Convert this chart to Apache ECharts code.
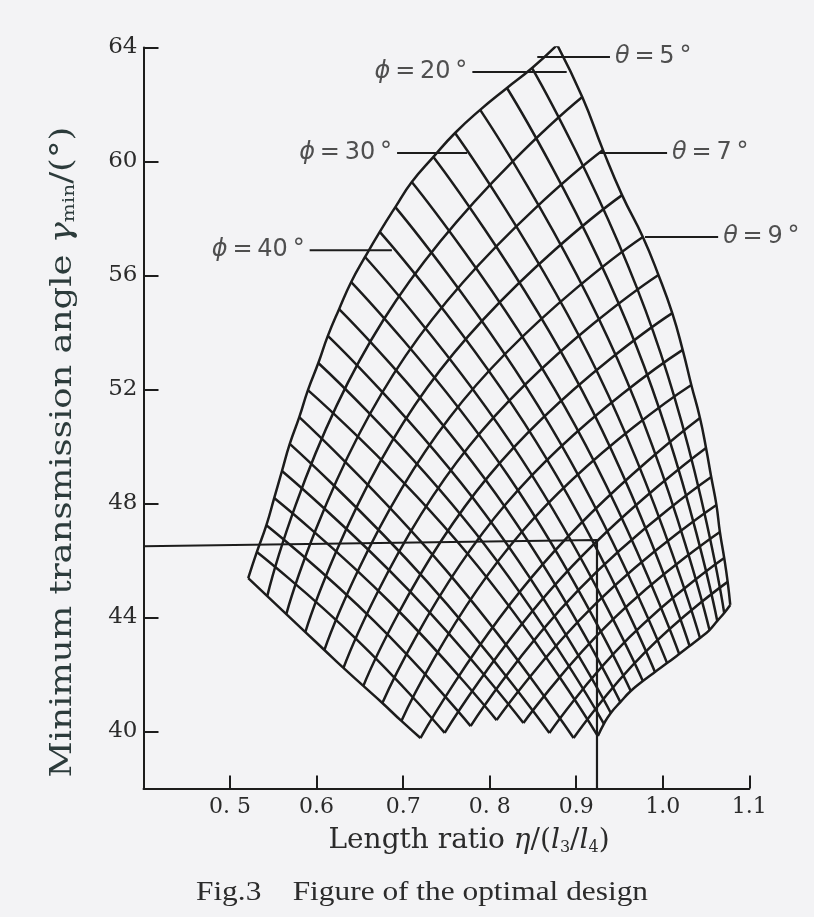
<!DOCTYPE html>
<html>
<head>
<meta charset="utf-8">
<script src="https://cdn.jsdelivr.net/npm/echarts@6/dist/echarts.min.js"></script>
<style>
  html, body { margin: 0; padding: 0; background: #f3f3f5; }
  #chart { width: 814px; height: 917px; }
</style>
</head>
<body>
<div id="chart"></div>
<script>
// ---- axis ticks ----
const xTicks = [0.5, 0.6, 0.7, 0.8, 0.9, 1.0, 1.1];
const xTickLabels = ['0. 5', '0.6', '0.7', '0. 8', '0.9', '1.0', '1.1'];
const yTicks = [40, 44, 48, 52, 56, 60, 64];

// ---- design chart nodes, [η, γmin] ----
// θ = 5° edge (upper-left), one node per ϕ line, from the apex downwards
const thetaMinEdge = [
  [0.878, 64.09], [0.849, 63.28], [0.820, 62.58], [0.789, 61.81], [0.760, 61.00],
  [0.735, 60.16], [0.710, 59.28], [0.691, 58.40], [0.673, 57.53], [0.656, 56.65],
  [0.640, 55.77], [0.626, 54.82], [0.613, 53.88], [0.602, 52.93], [0.590, 51.98],
  [0.580, 51.03], [0.569, 50.09], [0.560, 49.14], [0.551, 48.19], [0.542, 47.24],
  [0.531, 46.30], [0.521, 45.38]
];
// smallest-ϕ edge (upper-right), one node per θ line, θ = 5° … 21°
const phiMinEdge = [
  [0.878, 64.09], [0.907, 62.26], [0.931, 60.40], [0.953, 58.82], [0.977, 57.35],
  [0.995, 56.02], [1.011, 54.68], [1.023, 53.39], [1.033, 52.16], [1.043, 51.00],
  [1.050, 49.95], [1.056, 48.93], [1.062, 47.95], [1.066, 47.00], [1.071, 46.09],
  [1.075, 45.25], [1.078, 44.44]
];
// θ = 21° edge (lower-right), nodes where the ϕ lines end
const thetaMaxEdge = [
  [1.078, 44.44], [1.071, 44.16], [1.063, 43.88], [1.054, 43.56], [1.043, 43.28],
  [1.031, 43.00], [1.019, 42.72], [1.005, 42.40], [0.991, 42.09], [0.977, 41.77],
  [0.963, 41.42], [0.951, 41.03], [0.940, 40.65], [0.932, 40.27], [0.925, 39.84]
];
// largest-ϕ edge (lower-left), nodes where θ = 5° … 14° end
const phiMaxEdge = [
  [0.521, 45.38], [0.543, 44.75], [0.565, 44.12], [0.587, 43.49], [0.609, 42.86],
  [0.631, 42.23], [0.654, 41.60], [0.676, 41.00], [0.698, 40.37], [0.720, 39.77]
];
// lowest vertices, where a θ line (14° … 21°) meets a ϕ line
const bottomVertices = [
  [0.720, 39.77], [0.748, 39.95], [0.778, 40.19], [0.808, 40.40],
  [0.839, 40.30], [0.869, 39.95], [0.897, 39.77], [0.925, 39.84]
];
// mid-span points of the inner θ lines, θ = 6° … 20°
const thetaMid = [
  [0.677, 54.43], [0.703, 53.19], [0.728, 52.08], [0.754, 51.03], [0.776, 50.00],
  [0.799, 48.97], [0.819, 47.99], [0.837, 47.00], [0.862, 45.89], [0.883, 45.40],
  [0.903, 44.98], [0.924, 44.53], [0.943, 43.95], [0.961, 43.29], [0.978, 42.73]
];
// mid-span points of the inner ϕ lines
const phiMid = [
  [0.989, 54.03], [0.969, 53.56], [0.948, 53.04], [0.926, 52.51], [0.907, 51.95],
  [0.887, 51.38], [0.869, 50.78], [0.853, 50.20], [0.836, 49.60], [0.821, 48.99],
  [0.807, 48.34], [0.794, 47.66], [0.783, 46.99], [0.773, 46.29], [0.749, 45.68],
  [0.728, 45.25], [0.707, 44.94], [0.686, 44.50], [0.666, 43.89], [0.645, 43.27]
];

// chosen design: η = 0.924, γmin ≈ 46.6°
const designLine = [[0.40, 46.5], [0.924, 46.72], [0.924, 38]];

// curve labels: text, leader start, leader end, which end carries the text
const curveLabels = [
  { text: '{g|ϕ}\u2009=\u200920\u2009°', from: [0.780, 63.14], to: [0.889, 63.14], side: 'left' },
  { text: '{g|ϕ}\u2009=\u200930\u2009°', from: [0.693, 60.30], to: [0.774, 60.30], side: 'left' },
  { text: '{g|ϕ}\u2009=\u200940\u2009°', from: [0.592, 56.89], to: [0.687, 56.89], side: 'left' },
  { text: '{g|θ}\u2009=\u20095\u2009°',  from: [0.855, 63.67], to: [0.939, 63.67], side: 'right' },
  { text: '{g|θ}\u2009=\u20097\u2009°',  from: [0.9275, 60.30], to: [1.005, 60.30], side: 'right' },
  { text: '{g|θ}\u2009=\u20099\u2009°',  from: [0.9795, 57.35], to: [1.064, 57.35], side: 'right' }
];

const INK = '#1c1c1c';
const TEXT = '#2b2b2b';

// ---- assemble the θ and ϕ lines from the nodes ----
const nTheta = phiMinEdge.length;        // 17 θ lines
const nPhi = thetaMinEdge.length;        // 22 ϕ lines
const firstBottom = phiMaxEdge.length - 1;   // θ index of the first bottom vertex

const thetaLines = [];
thetaLines.push(thetaMinEdge);
for (let i = 1; i < nTheta - 1; i++) {
  const end = i <= firstBottom ? phiMaxEdge[i] : bottomVertices[i - firstBottom];
  thetaLines.push([phiMinEdge[i], thetaMid[i - 1], end]);
}
thetaLines.push(thetaMaxEdge);

const phiLines = [];
phiLines.push(phiMinEdge);
for (let j = 1; j < nPhi - 1; j++) {
  const end = j < thetaMaxEdge.length ? thetaMaxEdge[j]
    : bottomVertices[(nTheta - 1) - firstBottom - (j - (thetaMaxEdge.length - 1))];
  phiLines.push([thetaMinEdge[j], phiMid[j - 1], end]);
}
phiLines.push(phiMaxEdge);

function meshSeries(points) {
  return {
    type: 'line', data: points, smooth: 0.5, symbol: 'none',
    silent: true, animation: false, z: 3,
    lineStyle: { color: INK, width: 2.5 }
  };
}

const series = [];
thetaLines.forEach(p => series.push(meshSeries(p)));
phiLines.forEach(p => series.push(meshSeries(p)));

series.push({
  type: 'line', data: designLine, symbol: 'none', silent: true, animation: false, z: 4,
  lineStyle: { color: INK, width: 2.2 }
});

// leader lines
curveLabels.forEach(c => {
  series.push({
    type: 'line', data: [c.from, c.to], symbol: 'none', silent: true, animation: false, z: 5,
    lineStyle: { color: INK, width: 2 }
  });
});
// leader texts, anchored at the outer end of each leader
series.push({
  type: 'scatter', symbolSize: 0, silent: true, animation: false, z: 6,
  data: curveLabels.map(c => ({
    value: c.side === 'left' ? c.from : c.to,
    label: { position: c.side, formatter: c.text }
  })),
  label: {
    show: true, distance: 5, fontFamily: 'DejaVu Sans', fontSize: 24, color: '#262626',
    rich: { g: { fontFamily: 'DejaVu Sans', fontStyle: 'italic', fontSize: 24, color: '#262626' } }
  }
});

const option = {
  backgroundColor: '#f3f3f5',
  animation: false,
  grid: { left: 143.5, right: 64.7, top: 47.5, bottom: 128.5 },
  xAxis: {
    type: 'value', min: 0.4, max: 1.1,
    axisLine: { show: true, onZero: false, lineStyle: { color: INK, width: 2 } },
    axisTick: { show: true, inside: true, length: 13, customValues: xTicks, lineStyle: { color: INK, width: 2 } },
    axisLabel: {
      customValues: xTicks, margin: 8, color: TEXT, fontFamily: 'DejaVu Serif', fontSize: 22,
      formatter: v => {
        const k = xTicks.findIndex(t => Math.abs(t - v) < 1e-6);
        return k >= 0 ? xTickLabels[k] : '';
      }
    },
    splitLine: { show: false }
  },
  yAxis: {
    type: 'value', min: 38, max: 64,
    axisLine: { show: true, onZero: false, lineStyle: { color: INK, width: 2 } },
    axisTick: { show: true, inside: true, length: 15, customValues: yTicks, lineStyle: { color: INK, width: 2 } },
    axisLabel: { customValues: yTicks, margin: 6, color: TEXT, fontFamily: 'DejaVu Serif', fontSize: 23 },
    splitLine: { show: false }
  },
  graphic: [
    {
      type: 'text', x: 63, y: 452, rotation: Math.PI / 2, scaleX: 1.18,
      style: {
        text: 'Minimum transmission angle {g|γ}{s|min}/(°)',
        align: 'center', verticalAlign: 'middle',
        fontFamily: 'DejaVu Serif', fontSize: 30, fill: '#2c3b3b',
        rich: {
          g: { fontFamily: 'DejaVu Serif', fontStyle: 'italic', fontSize: 30, fill: '#2c3b3b' },
          s: { fontFamily: 'DejaVu Serif', fontSize: 17, fill: '#2c3b3b', padding: [14, 0, 0, 0] }
        }
      }
    },
    {
      type: 'text', x: 469, y: 841,
      style: {
        text: 'Length ratio {i|η}/({i|l}{s|3}/{i|l}{s|4})',
        align: 'center', verticalAlign: 'middle',
        fontFamily: 'DejaVu Serif', fontSize: 28, fill: TEXT,
        rich: {
          i: { fontFamily: 'DejaVu Serif', fontStyle: 'italic', fontSize: 28, fill: TEXT },
          s: { fontFamily: 'DejaVu Serif', fontSize: 16, fill: TEXT, padding: [13, 0, 0, 0] }
        }
      }
    },
    {
      type: 'text', x: 422, y: 893, scaleX: 1.12,
      style: {
        text: 'Fig.3    Figure of the optimal design',
        align: 'center', verticalAlign: 'middle',
        fontFamily: 'Liberation Serif', fontSize: 28, fill: TEXT
      }
    }
  ],
  series: series
};

const chart = echarts.init(document.getElementById('chart'));
chart.setOption(option);
</script>
</body>
</html>
